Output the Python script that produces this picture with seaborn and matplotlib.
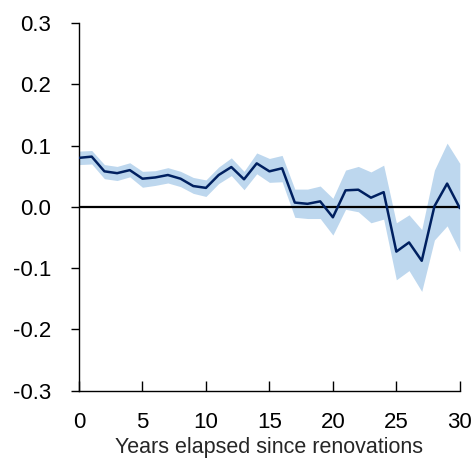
import matplotlib
matplotlib.use("Agg")
import matplotlib.pyplot as plt
import seaborn as sns
import pandas as pd

years = list(range(0, 31))
estimate = [0.080, 0.082, 0.058, 0.055, 0.060, 0.046, 0.048, 0.052, 0.046, 0.034,
            0.031, 0.052, 0.065, 0.045, 0.071, 0.058, 0.063, 0.007, 0.005, 0.009,
            -0.017, 0.027, 0.028, 0.015, 0.024, -0.073, -0.058, -0.088, 0.001, 0.038,
            -0.002]
upper = [0.091, 0.092, 0.069, 0.066, 0.072, 0.058, 0.059, 0.064, 0.058, 0.048,
         0.044, 0.065, 0.080, 0.058, 0.088, 0.079, 0.084, 0.029, 0.029, 0.034,
         0.014, 0.060, 0.066, 0.057, 0.068, -0.026, -0.013, -0.037, 0.060, 0.104,
         0.071]
lower = [0.069, 0.070, 0.046, 0.043, 0.049, 0.032, 0.035, 0.039, 0.033, 0.022,
         0.017, 0.038, 0.051, 0.028, 0.054, 0.040, 0.041, -0.017, -0.019, -0.019,
         -0.046, -0.004, -0.008, -0.026, -0.020, -0.119, -0.104, -0.138, -0.054, -0.031,
         -0.073]
xticks = [0, 5, 10, 15, 20, 25, 30]
yticks = [-0.3, -0.2, -0.1, 0.0, 0.1, 0.2, 0.3]
xlabel = "Years elapsed since renovations"

sns.set_style("ticks")
plt.rcParams['font.family'] = ['Liberation Sans', 'DejaVu Sans']

df = pd.DataFrame({"year": years, "est": estimate, "lo": lower, "hi": upper})

fig = plt.figure(figsize=(4.76, 4.61), dpi=100)
ax = fig.add_axes([0.166, 0.1525, 0.8, 0.7975])

ax.fill_between(df["year"], df["lo"], df["hi"], color="#BDD7EE", linewidth=0, zorder=1)
ax.axhline(0, color="black", linewidth=1.6, zorder=2)
sns.lineplot(data=df, x="year", y="est", ax=ax, color="#002060", linewidth=1.8, zorder=3)

ax.set_xlim(0, 30)
ax.set_ylim(-0.3, 0.3)
ax.set_xticks(xticks)
ax.set_yticks(yticks)
ax.set_yticklabels([f"{v:.1f}" for v in yticks])
ax.set_xlabel(xlabel, fontsize=15.5, labelpad=3)
ax.set_ylabel("")
for s in ["top", "right"]:
    ax.spines[s].set_visible(False)
for s in ["left", "bottom"]:
    ax.spines[s].set_linewidth(1.0)
    ax.spines[s].set_color("black")
ax.tick_params(axis="y", direction="out", length=6, width=1, labelsize=16, pad=14, colors="black")
ax.tick_params(axis="x", direction="in", length=7, width=1, labelsize=16, pad=15, colors="black")

fig.savefig("out.png", dpi=100)
